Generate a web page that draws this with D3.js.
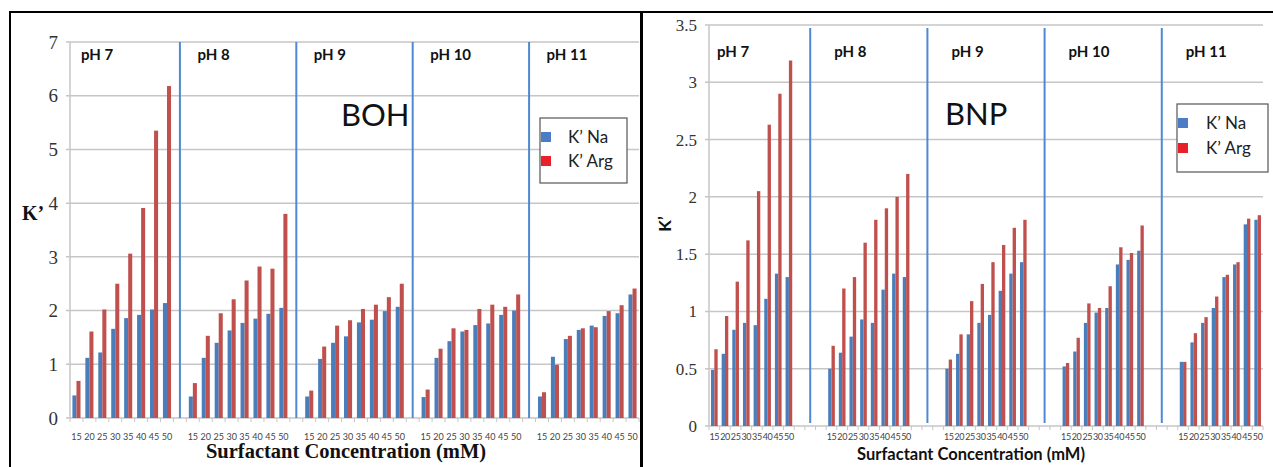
<!DOCTYPE html>
<html>
<head>
<meta charset="utf-8">
<script src="https://cdn.jsdelivr.net/npm/d3@7"></script>
<style>
  body { margin: 0; background: #fff; }
  svg { display: block; }
</style>
</head>
<body>
<div id="chart"></div>
<script>
// categories
const phLabels = ["pH 7", "pH 8", "pH 9", "pH 10", "pH 11"];
const concentrations = ["15", "20", "25", "30", "35", "40", "45", "50"];
const seriesNames = ["K’ Na", "K’ Arg"];

// BOH values, one row per pH
const bohNa = [
    [0.42, 1.12, 1.22, 1.66, 1.86, 1.92, 2.02, 2.14],
    [0.40, 1.12, 1.40, 1.63, 1.77, 1.85, 1.94, 2.05],
    [0.40, 1.10, 1.40, 1.52, 1.78, 1.83, 1.99, 2.07],
    [0.39, 1.12, 1.43, 1.61, 1.73, 1.76, 1.92, 2.00],
    [0.40, 1.14, 1.47, 1.64, 1.72, 1.90, 1.95, 2.30]
];
const bohArg = [
    [0.69, 1.61, 2.02, 2.50, 3.06, 3.91, 5.35, 6.18],
    [0.65, 1.53, 1.95, 2.21, 2.56, 2.82, 2.78, 3.80],
    [0.51, 1.33, 1.72, 1.82, 2.03, 2.11, 2.25, 2.50],
    [0.53, 1.29, 1.67, 1.64, 2.03, 2.11, 2.07, 2.30],
    [0.48, 0.99, 1.53, 1.67, 1.69, 1.99, 2.10, 2.41]
];

// BNP values, one row per pH
const bnpNa = [
    [0.49, 0.63, 0.84, 0.90, 0.88, 1.11, 1.33, 1.30],
    [0.50, 0.64, 0.78, 0.93, 0.90, 1.19, 1.33, 1.30],
    [0.50, 0.63, 0.80, 0.90, 0.97, 1.18, 1.33, 1.43],
    [0.52, 0.65, 0.90, 0.99, 1.03, 1.41, 1.45, 1.53],
    [0.56, 0.73, 0.90, 1.03, 1.30, 1.41, 1.76, 1.80]
];
const bnpArg = [
    [0.67, 0.96, 1.26, 1.62, 2.05, 2.63, 2.90, 3.19],
    [0.70, 1.20, 1.30, 1.60, 1.80, 1.90, 2.00, 2.20],
    [0.58, 0.80, 1.09, 1.24, 1.43, 1.58, 1.73, 1.80],
    [0.55, 0.77, 1.07, 1.03, 1.22, 1.56, 1.51, 1.75],
    [0.56, 0.81, 0.95, 1.13, 1.32, 1.43, 1.81, 1.84]
];

// tick labels
const bohTicks = [0, 1, 2, 3, 4, 5, 6, 7];
const bnpTicks = [0, 0.5, 1, 1.5, 2, 2.5, 3, 3.5];

const W = 1273, H = 467;
const blue = "#4a7ebb", red = "#c0504d";
const sepBlue = "#5089d2";
const legendBlue = "#4a7dc6", legendRed = "#e8202a";
const grid = "#c6c6c6";
const sans = "Lato, 'Open Sans', sans-serif";
const serif = "'Liberation Serif', 'DejaVu Serif', serif";

const svg = d3.select("#chart")
    .append("svg")
    .attr("width", W)
    .attr("height", H);

function drawPanel(cfg) {
    const g = svg.append("g").attr("class", "panel-" + cfg.name);

    // one slot per bar pair, plus blank slots between pH groups
    const keys = [];
    phLabels.forEach((p, gi) => {
        concentrations.forEach(c => keys.push(p + "|" + c));
        if (gi < phLabels.length - 1) {
            d3.range(cfg.gapSlots).forEach(k => keys.push(p + "|gap" + k));
        }
    });

    const xSlot = d3.scaleBand().domain(keys).range([cfg.x0, cfg.x1]);
    const xSeries = d3.scaleBand()
        .domain(["na", "arg"])
        .range([0, xSlot.bandwidth()])
        .paddingOuter(0.6);
    const y = d3.scaleLinear()
        .domain([0, d3.max(cfg.ticks)])
        .range([cfg.yBase, cfg.yTop]);

    // gridlines
    g.selectAll("line.grid")
        .data(cfg.ticks)
        .enter()
        .append("line")
        .attr("x1", cfg.x0 - 4)
        .attr("x2", cfg.x1)
        .attr("y1", d => y(d))
        .attr("y2", d => y(d))
        .attr("stroke", grid)
        .attr("stroke-width", 1.5);

    // y axis line
    g.append("line")
        .attr("x1", cfg.x0).attr("x2", cfg.x0)
        .attr("y1", y.range()[1]).attr("y2", y.range()[0])
        .attr("stroke", grid)
        .attr("stroke-width", 1.5);

    // y tick labels
    g.selectAll("text.ytick")
        .data(cfg.ticks)
        .enter()
        .append("text")
        .attr("x", cfg.x0 - cfg.yLabelGap)
        .attr("y", d => y(d))
        .attr("dy", "0.35em")
        .attr("text-anchor", "end")
        .attr("font-family", serif)
        .attr("font-size", cfg.yFont)
        .attr("fill", "#333")
        .text(d => d);

    // small ticks along the baseline
    const bounds = keys.map(k => xSlot(k)).concat([cfg.x1]);
    g.selectAll("line.xtick")
        .data(bounds)
        .enter()
        .append("line")
        .attr("x1", d => d).attr("x2", d => d)
        .attr("y1", cfg.yBase).attr("y2", cfg.yBase + 4)
        .attr("stroke", grid)
        .attr("stroke-width", 1);

    // bars
    const rows = [];
    phLabels.forEach((p, gi) => {
        concentrations.forEach((c, ci) => {
            rows.push({ key: p + "|" + c, s: "na", v: cfg.na[gi][ci] });
            rows.push({ key: p + "|" + c, s: "arg", v: cfg.arg[gi][ci] });
        });
    });

    g.selectAll("rect.bar")
        .data(rows)
        .enter()
        .append("rect")
        .attr("x", d => xSlot(d.key) + xSeries(d.s))
        .attr("y", d => y(d.v))
        .attr("width", xSeries.bandwidth())
        .attr("height", d => y(0) - y(d.v))
        .attr("fill", d => d.s === "na" ? blue : red);

    // x tick labels
    const labelKeys = [];
    phLabels.forEach(p => concentrations.forEach(c => labelKeys.push({ key: p + "|" + c, c: c })));
    g.selectAll("text.xtick")
        .data(labelKeys)
        .enter()
        .append("text")
        .attr("x", d => xSlot(d.key) + xSlot.bandwidth() / 2)
        .attr("y", cfg.xLabelY)
        .attr("text-anchor", "middle")
        .attr("font-family", sans)
        .attr("font-size", cfg.xFont)
        .attr("letter-spacing", cfg.xSpacing)
        .attr("fill", "#444")
        .text(d => d.c);

    // blue separators between pH groups
    const midGap = Math.floor(cfg.gapSlots / 2);
    g.selectAll("line.sep")
        .data(phLabels.slice(0, -1))
        .enter()
        .append("line")
        .attr("x1", d => xSlot(d + "|gap" + midGap) + xSlot.bandwidth() / 2)
        .attr("x2", d => xSlot(d + "|gap" + midGap) + xSlot.bandwidth() / 2)
        .attr("y1", cfg.sepTop)
        .attr("y2", cfg.sepBottom)
        .attr("stroke", sepBlue)
        .attr("stroke-width", 2);

    // pH labels
    g.selectAll("text.ph")
        .data(phLabels)
        .enter()
        .append("text")
        .attr("x", d => xSlot(d + "|15") + cfg.phOffset)
        .attr("y", cfg.phY)
        .attr("dy", "0.35em")
        .attr("font-family", sans)
        .attr("font-weight", "bold")
        .attr("font-size", 15)
        .attr("fill", "#111")
        .text(d => d);

    // compound name
    g.append("text")
        .attr("x", cfg.nameX)
        .attr("y", cfg.nameY)
        .attr("dy", "0.35em")
        .attr("font-family", sans)
        .attr("font-size", 31)
        .attr("fill", "#111")
        .text(cfg.name);

    // legend
    const lg = g.append("g").attr("transform", `translate(${cfg.legend.x}, ${cfg.legend.y})`);
    lg.append("rect")
        .attr("width", cfg.legend.w)
        .attr("height", cfg.legend.h)
        .attr("fill", "#fff")
        .attr("stroke", "#555")
        .attr("stroke-width", 1.2);
    lg.selectAll("rect.key")
        .data(seriesNames)
        .enter()
        .append("rect")
        .attr("x", 1)
        .attr("y", (d, i) => cfg.legend.row0 + i * cfg.legend.rowGap - 5)
        .attr("width", 10)
        .attr("height", 10)
        .attr("fill", (d, i) => i === 0 ? legendBlue : legendRed);
    lg.selectAll("text.key")
        .data(seriesNames)
        .enter()
        .append("text")
        .attr("x", cfg.legend.textX)
        .attr("y", (d, i) => cfg.legend.row0 + i * cfg.legend.rowGap)
        .attr("dy", "0.35em")
        .attr("font-family", sans)
        .attr("font-size", 17)
        .attr("fill", "#222")
        .text(d => d);

    return g;
}

const left = drawPanel({
    name: "BOH", na: bohNa, arg: bohArg, ticks: bohTicks,
    x0: 70, x1: 639, yTop: 42, yBase: 418, gapSlots: 1,
    yLabelGap: 12, yFont: 19, xLabelY: 440, xFont: 9, xSpacing: 0,
    sepTop: 42, sepBottom: 418, phOffset: 11, phY: 55,
    nameX: 341, nameY: 115,
    legend: { x: 540, y: 118, w: 87, h: 65, row0: 19, rowGap: 24, textX: 28 }
});

const right = drawPanel({
    name: "BNP", na: bnpNa, arg: bnpArg, ticks: bnpTicks,
    x0: 709, x1: 1263, yTop: 25, yBase: 426, gapSlots: 3,
    yLabelGap: 12, yFont: 17, xLabelY: 440, xFont: 9, xSpacing: -0.4,
    sepTop: 28, sepBottom: 423, phOffset: 8, phY: 52,
    nameX: 945, nameY: 114,
    legend: { x: 1177, y: 104, w: 91, h: 68, row0: 19, rowGap: 25, textX: 29 }
});

// axis titles
left.append("text")
    .attr("x", 22)
    .attr("y", 220)
    .attr("font-family", serif)
    .attr("font-weight", "bold")
    .attr("font-size", 20)
    .attr("fill", "#111")
    .text("K’");
left.append("text")
    .attr("x", 346)
    .attr("y", 458)
    .attr("text-anchor", "middle")
    .attr("font-family", serif)
    .attr("font-weight", "bold")
    .attr("font-size", 20.5)
    .attr("fill", "#111")
    .text("Surfactant Concentration (mM)");

right.append("text")
    .attr("transform", "translate(671, 224) rotate(-90)")
    .attr("text-anchor", "middle")
    .attr("font-family", sans)
    .attr("font-weight", "bold")
    .attr("font-size", 17)
    .attr("fill", "#111")
    .text("K’");
right.append("text")
    .attr("x", 971)
    .attr("y", 460)
    .attr("text-anchor", "middle")
    .attr("font-family", sans)
    .attr("font-weight", "bold")
    .attr("font-size", 16.5)
    .attr("fill", "#111")
    .text("Surfactant Concentration (mM)");

// black frame round the two panels
svg.append("line")
    .attr("x1", 9).attr("x2", W).attr("y1", 12).attr("y2", 12)
    .attr("stroke", "#000").attr("stroke-width", 2);
svg.append("line")
    .attr("x1", 10).attr("x2", 10).attr("y1", 11).attr("y2", H)
    .attr("stroke", "#000").attr("stroke-width", 2);
svg.append("line")
    .attr("x1", 641.5).attr("x2", 641.5).attr("y1", 11).attr("y2", H)
    .attr("stroke", "#000").attr("stroke-width", 3);
</script>
</body>
</html>
